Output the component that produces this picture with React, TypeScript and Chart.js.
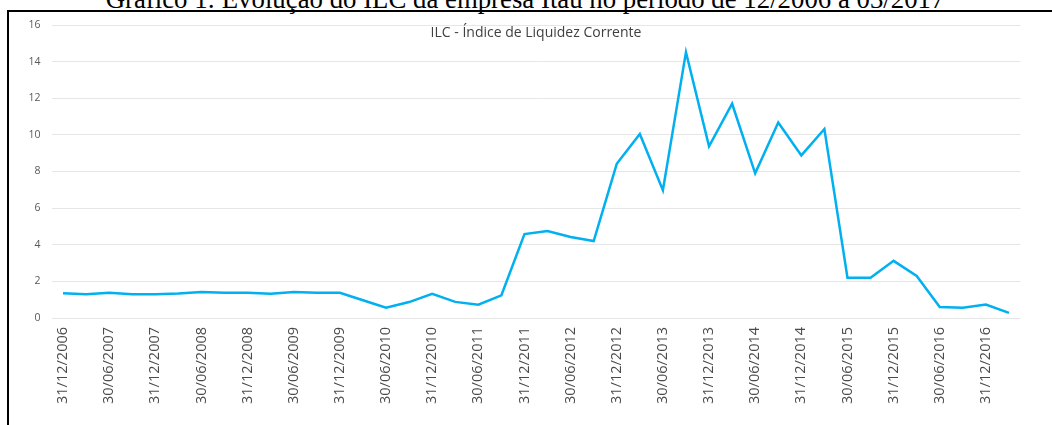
import React, { useEffect, useRef } from "react";
import { Chart, registerables } from "chart.js";

Chart.register(...registerables);

const caption = "Gráfico 1: Evolução do ILC da empresa Itaú no período de 12/2006 a 03/2017";
const chartTitle = "ILC - Índice de Liquidez Corrente";

const categories = [
  "31/12/2006", "31/03/2007", "30/06/2007", "30/09/2007",
  "31/12/2007", "31/03/2008", "30/06/2008", "30/09/2008",
  "31/12/2008", "31/03/2009", "30/06/2009", "30/09/2009",
  "31/12/2009", "31/03/2010", "30/06/2010", "30/09/2010",
  "31/12/2010", "31/03/2011", "30/06/2011", "30/09/2011",
  "31/12/2011", "31/03/2012", "30/06/2012", "30/09/2012",
  "31/12/2012", "31/03/2013", "30/06/2013", "30/09/2013",
  "31/12/2013", "31/03/2014", "30/06/2014", "30/09/2014",
  "31/12/2014", "31/03/2015", "30/06/2015", "30/09/2015",
  "31/12/2015", "31/03/2016", "30/06/2016", "30/09/2016",
  "31/12/2016", "31/03/2017",
];

const ilcValues = [
  1.35, 1.30, 1.38, 1.30,
  1.30, 1.34, 1.42, 1.38,
  1.38, 1.33, 1.42, 1.38,
  1.38, 0.97, 0.56, 0.87,
  1.32, 0.88, 0.73, 1.24,
  4.58, 4.75, 4.42, 4.20,
  8.42, 10.05, 6.98, 14.52,
  9.38, 11.70, 7.90, 10.68,
  8.88, 10.32, 2.20, 2.20,
  3.12, 2.30, 0.60, 0.56,
  0.73, 0.28,
];

const yTicks = [0, 2, 4, 6, 8, 10, 12, 14, 16];

export default function App() {
  const canvasRef = useRef<HTMLCanvasElement | null>(null);

  useEffect(() => {
    const canvas = canvasRef.current;
    if (!canvas) return;
    const chart = new Chart(canvas, {
      type: "line",
      data: {
        labels: categories,
        datasets: [
          {
            label: chartTitle,
            data: ilcValues,
            borderColor: "#00B0F0",
            backgroundColor: "#00B0F0",
            borderWidth: 2.5,
            pointRadius: 0,
            pointHoverRadius: 0,
            tension: 0,
            fill: false,
          },
        ],
      },
      options: {
        responsive: false,
        animation: false,
        layout: { padding: { left: 21.5, right: 31.5, top: 25, bottom: 7 } },
        plugins: {
          legend: { display: false },
          title: { display: false },
          tooltip: { enabled: false },
        },
        scales: {
          x: {
            type: "category",
            offset: true,
            grid: { display: false, drawTicks: false },
            border: { display: false },
            afterFit: (scale: any) => {
              scale.height = 100;
            },
            ticks: {
              autoSkip: false,
              maxRotation: 90,
              minRotation: 90,
              padding: 9,
              color: "#4a4a4a",
              font: { family: "'Open Sans', sans-serif", size: 14.5 },
              callback: (_v: any, i: number) => (i % 2 === 0 ? categories[i] : ""),
            },
          },
          y: {
            min: 0,
            max: 16,
            afterFit: (scale: any) => {
              scale.width = 30;
            },
            afterBuildTicks: (scale: any) => {
              scale.ticks = yTicks.map((v) => ({ value: v }));
            },
            grid: { color: "#e6e6e6", lineWidth: 1, drawTicks: false },
            border: { display: false },
            ticks: {
              padding: 11,
              color: "#595959",
              font: { family: "'Open Sans', sans-serif", size: 10.5 },
            },
          },
        },
      },
    });
    return () => chart.destroy();
  }, []);

  return (
    <div
      style={{
        position: "fixed",
        left: 0,
        top: 0,
        width: 1052,
        height: 425,
        overflow: "hidden",
        background: "#ffffff",
      }}
    >
      <div
        style={{
          position: "absolute",
          left: 525,
          top: -16,
          transform: "translateX(-50%)",
          whiteSpace: "nowrap",
          fontFamily: "'Liberation Serif', 'Times New Roman', serif",
          fontSize: 26.8,
          lineHeight: "30px",
          color: "#000",
        }}
      >
        {caption}
      </div>
      <div
        style={{
          position: "absolute",
          left: 7,
          top: 10,
          width: 1200,
          height: 600,
          borderLeft: "2px solid #000",
          borderTop: "2px solid #000",
        }}
      />
      <canvas
        ref={canvasRef}
        width={1052}
        height={425}
        style={{ position: "absolute", left: 0, top: 0, width: 1052, height: 425 }}
      />
      <div
        style={{
          position: "absolute",
          left: 536,
          top: 24.1,
          transform: "translateX(-50%)",
          whiteSpace: "nowrap",
          fontFamily: "'Open Sans', sans-serif",
          fontSize: 14,
          lineHeight: "16px",
          color: "#404040",
        }}
      >
        {chartTitle}
      </div>
    </div>
  );
}
